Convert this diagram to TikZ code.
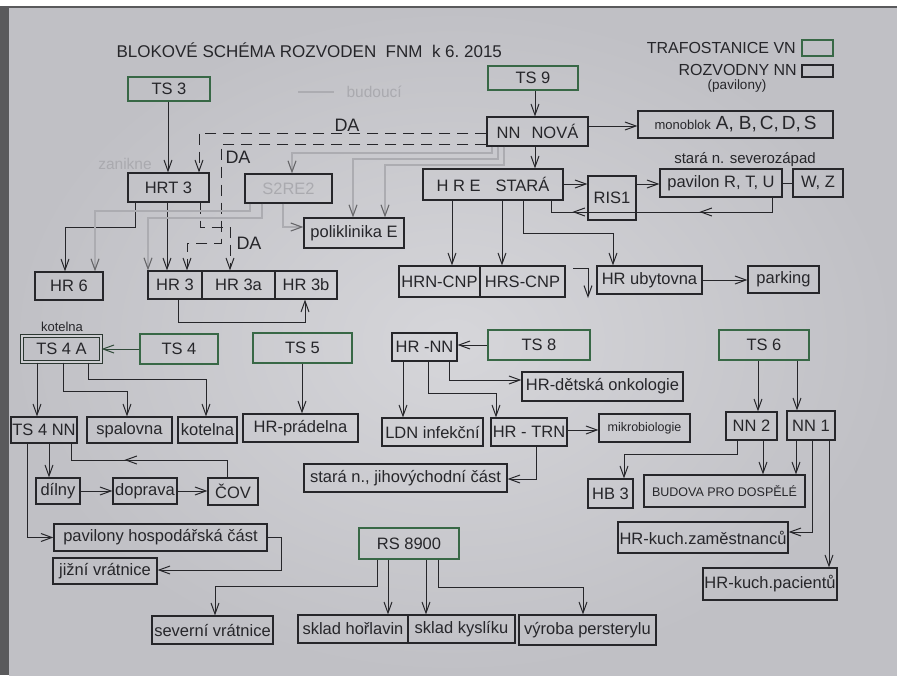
\documentclass[tikz,border=0pt]{standalone}
\usepackage{fontspec}
\setmainfont{Liberation Sans}
\usetikzlibrary{arrows.meta,decorations.markings}
\definecolor{paperL}{RGB}{214,214,218}
\definecolor{paperD}{RGB}{192,192,197}
\definecolor{paper}{RGB}{206,206,210}
\definecolor{frame}{RGB}{90,90,92}
\definecolor{ink}{RGB}{38,38,42}
\definecolor{tsgreen}{RGB}{56,104,70}
\definecolor{future}{RGB}{172,172,177}
\definecolor{futuretext}{RGB}{170,170,175}
\begin{document}
\begin{tikzpicture}[x=1pt,y=-1pt,
  >={Straight Barb[length=11pt,width=8pt]},
  every node/.style={text=ink},
  sz/.style 2 args={minimum width=#1, minimum height=#2},
  bx/.style={draw=ink, line width=1.2pt, inner sep=0pt, font=\fontsize{16.5}{18}\selectfont},
  ts/.style={bx, draw=tsgreen, line width=1.9pt},
  dbl/.style={bx, draw=ink!75!tsgreen, line width=1.1pt, double=paper, double distance=1.5pt},
  ln/.style={draw=ink, line width=1pt},
  arr/.style={ln, ->},
  da/.style={arr, dash pattern=on 11pt off 7pt},
  fut/.style={draw=future, line width=1.1pt},
  futarr/.style={fut, -{Straight Barb[length=11pt,width=8pt,color=ink!70]}},
  futtxt/.style={text=futuretext, font=\fontsize{15.5}{18}\selectfont},
  lbl/.style={font=\fontsize{16}{18}\selectfont, inner sep=0pt},
  midarr/.style={postaction={decorate}, decoration={markings, mark=at position #1 with {\arrow{>}}}},
  midarrs/.style 2 args={postaction={decorate}, decoration={markings, mark=at position #1 with {\arrow{>}}, mark=at position #2 with {\arrow{>}}}}
]
\useasboundingbox (0,0) rectangle (897,675);
\fill[white] (0,0) rectangle (897,675);
\fill[frame] (0,6) rectangle (897,675);
\shade[inner color=paperL, outer color=paperD] (9,8) rectangle (897,675);

% title and legend
\node[font=\fontsize{17}{20}\selectfont, anchor=west] (title) at (113,50) {BLOKOVÉ SCHÉMA ROZVODEN\ \ FNM\ \ k\ 6.\ 2015};
\node[lbl, anchor=east] (legA) at (796,48) {TRAFOSTANICE VN};
\node[ts, sz={31}{16}] (legAbox) at (817.5,48) {};
\node[lbl, anchor=east] (legB) at (797,70) {ROZVODNY NN};
\node[bx, sz={31}{12}] (legBbox) at (817.5,71) {};
\node[font=\fontsize{13.5}{15}\selectfont, inner sep=0pt] (legC) at (737,86) {(pavilony)};
\coordinate (budA) at (298,92);
\coordinate (budB) at (334,92);
\draw[fut] (budA) -- (budB);
\node[futtxt, anchor=west] (bud) at (343,92) {budoucí};
\node[futtxt] (zan) at (125,164) {zanikne};
\node[font=\fontsize{18}{20}\selectfont] (daA) at (347,125) {DA};
\node[font=\fontsize{18}{20}\selectfont] (daB) at (238,157) {DA};
\node[font=\fontsize{18}{20}\selectfont] (daC) at (249,243) {DA};

% top part
\node[ts, sz={82}{24}] (TSthree) at (169,89) {TS 3};
\node[ts, sz={90}{24}] (TSnine) at (533,78) {TS 9};
\node[bx, sz={101}{29}] (NNN) at (537.5,131.5) {NN\hspace{11pt}NOVÁ};
\node[bx, sz={195}{27}] (MONO) at (735.5,124.5) {{\fontsize{13}{15}\selectfont monoblok}\hspace{5pt}{\fontsize{19}{21}\selectfont A,\hspace{5pt}B,\hspace{3pt}C,\hspace{3pt}D,\hspace{3pt}S}};
\node[bx, sz={140}{31}] (HRE) at (493,184.5) {H R E\hspace{15pt}STARÁ};
\node[bx, sz={48}{44}] (RIS) at (612,198) {RIS1};
\node[bx, sz={122}{28}] (PAV) at (721,183) {pavilon R, T, U};
\node[bx, sz={50}{28}] (WZ) at (818,183) {W, Z};
\node[font=\fontsize{15}{17}\selectfont] (sevz) at (745,160) {stará n. severozápad};
\node[bx, sz={81}{31}] (HRN) at (439.5,281.5) {HRN-CNP};
\node[bx, sz={85}{31}] (HRS) at (522.5,281.5) {HRS-CNP};
\node[bx, sz={105}{28}] (HRUB) at (649.5,280) {HR ubytovna};
\node[bx, sz={71}{27}] (PARK) at (783.5,279.5) {parking};

\node[bx, sz={81}{29}] (HRT) at (168.5,187.5) {HRT 3};
\node[bx, sz={87}{29}, text=futuretext] (SRE) at (288.5,188.5) {S2RE2};
\node[bx, sz={100}{30}] (POLI) at (354,233) {poliklinika E};
\node[bx, sz={68}{28}] (HRsix) at (69,286) {HR 6};
\node[bx, sz={54}{28}] (HRthree) at (175,285) {HR 3};
\node[bx, sz={73}{28}] (HRthreeA) at (238.5,285) {HR 3a};
\node[bx, sz={62}{28}] (HRthreeB) at (306,285) {HR 3b};

% middle left
\node[font=\fontsize{13}{15}\selectfont] (kotlbl) at (62,327) {kotelna};
\node[dbl, sz={79}{26}] (TSfourA) at (61.5,349) {TS 4 A};
\node[ts, sz={78}{30}] (TSfour) at (179,349) {TS 4};
\node[ts, sz={99}{30}] (TSfive) at (302.5,348) {TS 5};
\node[bx, sz={115}{28}] (PRAD) at (300.5,428) {HR-prádelna};
\node[bx, sz={66}{26}] (TSfourNN) at (44,430) {TS 4 NN};
\node[bx, sz={85}{26}] (SPAL) at (129.5,430) {spalovna};
\node[bx, sz={59}{26}] (KOT) at (207.5,430) {kotelna};
\node[bx, sz={44}{26}] (DIL) at (58,491) {dílny};
\node[bx, sz={64}{26}] (DOP) at (145,491) {doprava};
\node[bx, sz={50}{27}] (COV) at (233,491.5) {ČOV};
\node[bx, sz={213}{27}] (PHC) at (160.5,537.5) {pavilony hospodářská část};
\node[bx, sz={104}{26}] (JIZ) at (105,571) {jižní vrátnice};

% bottom
\node[ts, sz={100}{31}] (RS) at (409,543.5) {RS 8900};
\node[bx, sz={121}{28}] (SEV) at (212.5,630) {severní vrátnice};
\node[bx, sz={110}{28}] (HOR) at (353,629) {sklad hořlavin};
\node[bx, sz={107}{28}] (KYS) at (461.5,629) {sklad kyslíku};
\node[bx, sz={137}{30}] (VYR) at (587.5,630) {výroba persterylu};

% middle right
\node[bx, sz={65}{28}] (HRNN) at (424.5,347) {HR -NN};
\node[ts, sz={102}{30}] (TSeight) at (539,345) {TS 8};
\node[bx, sz={161}{29}] (ONK) at (602.5,386.5) {HR-dětská onkologie};
\node[bx, sz={101}{28}] (LDN) at (432.5,432) {LDN infekční};
\node[bx, sz={76}{28}] (TRN) at (529,432) {HR - TRN};
\node[bx, sz={91}{28}, font=\fontsize{12.5}{14}\selectfont] (MIK) at (644.5,428) {mikrobiologie};
\node[bx, sz={203}{28}] (SJV) at (405.5,478) {stará n., jihovýchodní část};
\node[ts, sz={90}{30}] (TSsix) at (764,345) {TS 6};
\node[bx, sz={51}{28}] (NNtwo) at (751.5,426) {NN 2};
\node[bx, sz={48}{29}] (NNone) at (811,425.5) {NN 1};
\node[bx, sz={45}{29}] (HBthree) at (610.5,493.5) {HB 3};
\node[bx, sz={161}{32}, font=\fontsize{12.5}{14}\selectfont] (BUD) at (724.5,491) {BUDOVA PRO DOSPĚLÉ};
\node[bx, sz={170}{31}] (ZAM) at (703,537.5) {HR-kuch.zaměstnanců};
\node[bx, sz={134}{32}] (PAC) at (770,584) {HR-kuch.pacientů};

% ---------- connectors: top left ----------
\draw[arr] (TSthree.south -| 168,0) -- (HRT.north -| 168,0);
\draw[da] (NNN.west |- 0,133) -| (HRT.north -| 199,0);
\draw[da] (NNN.west |- 0,144) -| (221,243) -| (HRthree.north -| 187,0);
\draw[da] (HRT.south -| 200,0) |- (230,227) -- (HRthreeA.north -| 230,0);
\draw[arr] (HRT.south -| 135,0) |- (65,227) -- (HRsix.north -| 65,0);
\draw[arr] (HRT.south -| 167,0) -- (HRthree.north -| 167,0);
\draw[arr] (HRthree.south -| 178,0) |- (305,322) -- (HRthreeB.south -| 305,0);
% future (grey) lines
\draw[futarr] (SRE.south -| 250,0) |- (95,211) -- (HRsix.north -| 95,0);
\draw[futarr] (SRE.south -| 262,0) |- (148,218) -- (HRthree.north -| 148,0);
\draw[futarr] (SRE.south -| 283,0) |- (POLI.west |- 0,227);
\draw[futarr] (NNN.south -| 492,0) |- (292,153) -- (SRE.north -| 292,0);
\draw[futarr] (NNN.south -| 498,0) |- (353,159) -- (POLI.north -| 353,0);
\draw[futarr] (NNN.south -| 504,0) |- (385,165) -- (POLI.north -| 385,0);

% ---------- top right ----------
\draw[arr] (TSnine.south -| 535,0) -- (NNN.north -| 535,0);
\draw[arr] (NNN.east |- 0,126) -- (MONO.west |- 0,126);
\draw[arr] (NNN.south -| 535,0) -- (HRE.north -| 535,0);
\draw[arr] (HRE.east |- 0,184) -- (RIS.west |- 0,184);
\draw[arr] (RIS.east |- 0,184) -- (PAV.west |- 0,184);
\draw[ln] (PAV.east) -- (WZ.west);
\draw[ln, midarrs={87pt}{214pt}] (PAV.south -| 772,0) |- (551,212) -- (HRE.south -| 551,0);
\draw[arr] (HRE.south -| 452,0) -- (HRN.north -| 452,0);
\draw[arr] (HRE.south -| 502,0) -- (HRS.north -| 502,0);
\draw[arr] (HRE.south -| 523,0) |- (613,233) -- (HRUB.north -| 613,0);
\coordinate (stubA) at (573,268);
\coordinate (stubB) at (588,298);
\draw[arr] (stubA) -| (stubB);
\draw[arr] (HRUB.east) -- (PARK.west |- HRUB.east);

% ---------- middle left ----------
\draw[ln, draw=tsgreen!55!ink, -{Straight Barb[length=11pt,width=8pt]}] (TSfour.west) -- (TSfourA.east |- TSfour.west);
\draw[arr] (TSfourA.south -| 37,0) -- (TSfourNN.north -| 37,0);
\draw[arr] (TSfourA.south -| 63,0) |- (127,391) -- (SPAL.north -| 127,0);
\draw[arr] (TSfourA.south -| 88,0) |- (206,379) -- (KOT.north -| 206,0);
\draw[arr] (TSfive.south -| 302,0) -- (PRAD.north -| 302,0);
\draw[arr] (TSfourNN.south -| 49,0) -- (DIL.north -| 49,0);
\draw[ln, midarr=120pt] (COV.north -| 227,0) |- (71,460) -- (TSfourNN.south -| 71,0);
\draw[arr] (DIL.east) -- (DOP.west);
\draw[arr] (DOP.east) -- (COV.west |- DOP.east);
\draw[arr] (TSfourNN.south -| 27,0) |- (PHC.west);
\draw[arr] (PHC.east) -| (281,570) -- (JIZ.east |- 0,570);

% ---------- bottom ----------
\draw[arr] (RS.south -| 377,0) |- (215,586) -- (SEV.north -| 215,0);
\draw[arr] (RS.south -| 388,0) -- (HOR.north -| 388,0);
\draw[arr] (RS.south -| 426,0) -- (KYS.north -| 426,0);
\draw[arr] (RS.south -| 438,0) |- (583,587) -- (VYR.north -| 583,0);

% ---------- middle right ----------
\draw[arr] (TSeight.west) -- (HRNN.east |- TSeight.west);
\draw[arr] (HRNN.south -| 403,0) -- (LDN.north -| 403,0);
\draw[arr] (HRNN.south -| 428,0) |- (496,393) -- (TRN.north -| 496,0);
\draw[arr] (HRNN.south -| 449,0) |- (ONK.west |- 0,380);
\draw[arr] (TRN.east |- 0,430) -- (MIK.west |- 0,430);
\draw[arr] (TRN.south -| 536,0) |- (SJV.east |- 0,479);
\draw[arr] (TSsix.south -| 758,0) -- (NNtwo.north -| 758,0);
\draw[arr] (TSsix.south -| 797,0) -- (NNone.north -| 797,0);
\draw[arr] (NNtwo.south -| 737,0) |- (624,454) -- (HBthree.north -| 624,0);
\draw[arr] (NNtwo.south -| 763,0) -- (BUD.north -| 763,0);
\draw[arr] (NNone.south -| 796,0) -- (BUD.north -| 796,0);
\draw[arr] (NNone.south -| 812,0) |- (ZAM.east |- 0,532);
\draw[arr] (NNone.south -| 829,0) -- (PAC.north -| 829,0);
\end{tikzpicture}
\end{document}
